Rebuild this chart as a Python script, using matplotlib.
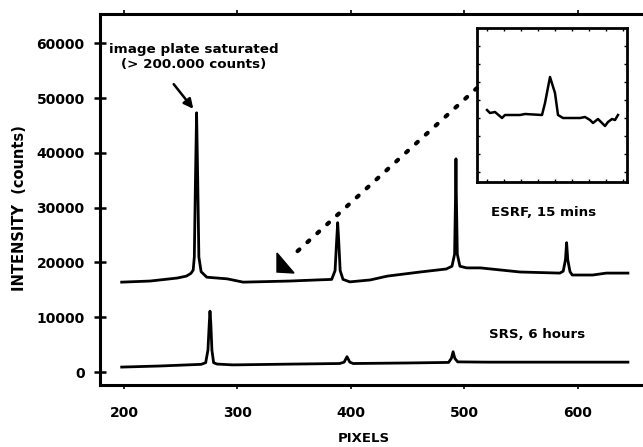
import matplotlib
matplotlib.use("Agg")
import matplotlib.pyplot as plt
from matplotlib.patches import Polygon

plt.rcParams['font.family'] = ['DejaVu Sans']
plt.rcParams['font.weight'] = 'bold'

# ESRF diffraction profile (15 minute exposure)
esrf_pixels = [198, 223, 247, 255, 259, 261, 262, 263, 264, 265, 266, 268, 273,
               291, 305, 346, 370, 383, 386, 387.4, 388.3, 389.2, 390.5, 393,
               399, 417, 432, 461, 484, 489, 491.3, 492.2, 492.5, 492.8, 493.7,
               496, 502, 514, 549, 584, 587, 589, 590, 591, 593, 595, 613, 625, 644]
esrf_counts = [16400, 16600, 17150, 17500, 18000, 18600, 21000, 35000, 47300,
               35000, 21000, 18300, 17300,
               17000, 16400, 16600, 16800, 16900, 18500, 24000, 27250, 24000,
               18500, 16900,
               16450, 16800, 17500, 18250, 18800, 19300, 21500, 33000, 38900,
               33000, 21500, 19300, 19000, 19000, 18250, 18050, 18400, 20500,
               23600, 20500, 18300, 17700, 17700, 18050, 18050]

# SRS diffraction profile (6 hour exposure)
srs_pixels = [198, 232, 268, 272, 274, 275.2, 275.8, 276.5, 277.5, 279, 282,
              296, 350, 390, 394, 396.5, 399, 402, 450, 486, 488.5, 490, 491.5,
              494, 520, 644]
srs_counts = [900, 1100, 1400, 1700, 4000, 9000, 11100, 9000, 4000, 1700, 1450,
              1300, 1450, 1550, 1800, 2800, 1800, 1550, 1650, 1750, 2500, 3700,
              2500, 1850, 1800, 1800]

# Enlarged detail of the ESRF baseline
inset_pixels = [10, 13, 18, 25, 28, 43, 48, 65, 68, 73, 78, 81, 86, 103, 108,
                113, 116, 121, 128, 131, 135, 138, 141]
inset_counts = [72, 69, 70, 64, 67, 67, 68, 67, 79, 105, 89, 67, 64, 64, 65,
                62, 59, 63, 56, 60, 63, 62, 67]

x_ticks = [200, 300, 400, 500, 600]
y_ticks = [0, 10000, 20000, 30000, 40000, 50000, 60000]

W, H = 643, 447
fig = plt.figure(figsize=(W / 100, H / 100), dpi=100)


def fx(px):
    return px / W


def fy(py):
    return 1 - py / H


ax = fig.add_axes([fx(100), fy(385), fx(643) - fx(100), fy(14) - fy(385)])
ax.plot(esrf_pixels, esrf_counts, color='black', lw=2.0, solid_joinstyle='round')
ax.plot(srs_pixels, srs_counts, color='black', lw=2.0, solid_joinstyle='round')
ax.set_xlim(178.9, 657.3)
ax.set_ylim(-2370, 65330)
ax.set_xticks(x_ticks)
ax.set_yticks(y_ticks)
ax.set_xticklabels([str(v) for v in x_ticks], fontsize=10, fontweight='bold')
ax.set_yticklabels([str(v) for v in y_ticks], fontsize=10, fontweight='bold')
ax.tick_params(axis='y', direction='inout', length=8, width=1.8, pad=7)
ax.tick_params(axis='x', direction='out', length=3, width=1.2, pad=12,
               top=True)
ax.spines['right'].set_visible(False)
for side in ['left', 'bottom', 'top']:
    ax.spines[side].set_linewidth(2.2)

fig.text(fx(364), fy(438), 'PIXELS', ha='center', va='center',
         fontsize=9.5, fontweight='bold')
fig.text(fx(20), fy(208), 'INTENSITY  (counts)', ha='center', va='center',
         rotation=90, fontsize=10.5, fontweight='bold')

fig.text(fx(194), fy(57), 'image plate saturated\n(> 200.000 counts)',
         ha='center', va='center', fontsize=9.7, fontweight='bold',
         linespacing=1.15)
ax.annotate('', xy=(fx(195), fy(111)), xycoords='figure fraction',
            xytext=(fx(172), fy(82)), textcoords='figure fraction',
            arrowprops=dict(arrowstyle='-|>', color='black', lw=1.8,
                            mutation_scale=14))

fig.text(fx(544), fy(213), 'ESRF, 15 mins', ha='center', va='center',
         fontsize=9.6, fontweight='bold')
fig.text(fx(537), fy(335), 'SRS, 6 hours', ha='center', va='center',
         fontsize=9.6, fontweight='bold')

# dotted pointer from the enlarged view down to the baseline
fig.add_artist(plt.Line2D([fx(477), fx(290)], [fy(88), fy(258)],
                          transform=fig.transFigure, color='black', lw=3.0,
                          linestyle=(0, (0.6, 2.6)), dash_capstyle='round'))
fig.add_artist(Polygon([[fx(277), fy(272)], [fx(277), fy(253)],
                        [fx(294), fy(273)]], closed=True,
                       transform=fig.transFigure, color='black'))

ins = fig.add_axes([fx(477), fy(182), fx(627) - fx(477), fy(28) - fy(182)])
ins.plot(inset_pixels, inset_counts, color='black', lw=1.8,
         solid_joinstyle='round')
ins.set_xlim(0, 150)
ins.set_ylim(0, 154)
ins.set_xticks(range(10, 150, 17))
ins.set_yticks(range(10, 154, 18))
ins.tick_params(direction='in', length=2, width=1, top=True, right=True,
                labelbottom=False, labelleft=False)
for s in ins.spines.values():
    s.set_linewidth(2.0)

fig.savefig('out.png', dpi=100)
